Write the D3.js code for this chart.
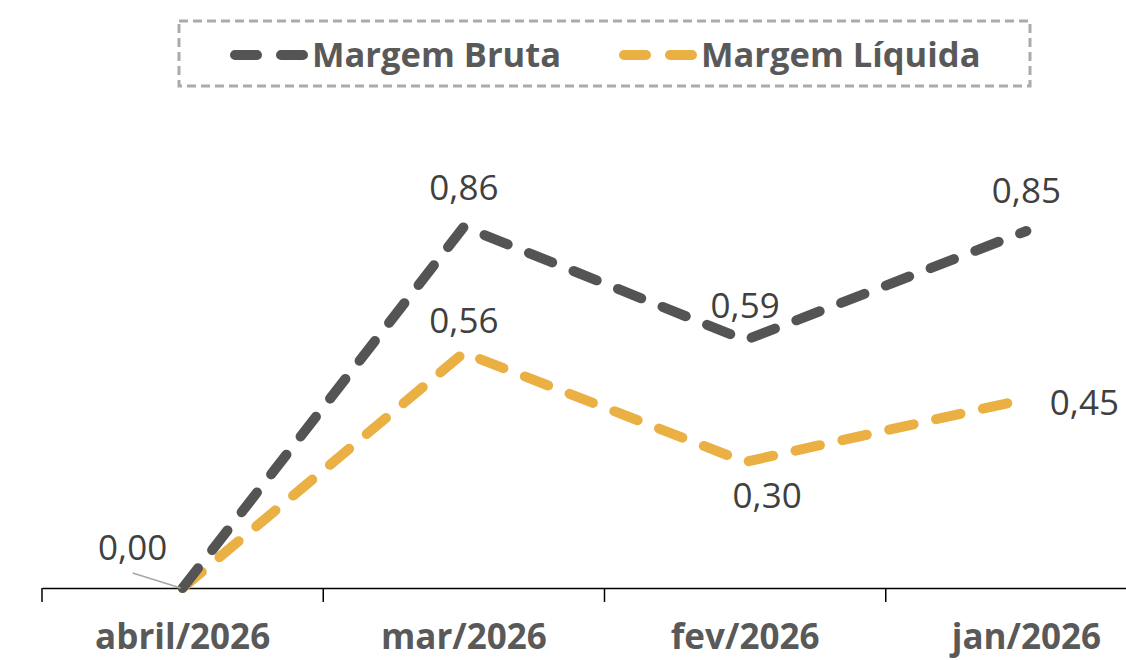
<!DOCTYPE html>
<html>
<head>
<meta charset="utf-8">
<script src="https://cdn.jsdelivr.net/npm/d3@7"></script>
<style>
  body { margin: 0; background: #fff; }
  text { font-family: "Open Sans", "Noto Sans", sans-serif; }
</style>
</head>
<body>
<div class="chart"></div>
<script>
const categories = ["abril/2026", "mar/2026", "fev/2026", "jan/2026"];
const margemBruta = [0.00, 0.86, 0.59, 0.85];
const margemLiquida = [0.00, 0.56, 0.30, 0.45];
const seriesNames = ["Margem Bruta", "Margem Líquida"];
const seriesColors = ["#545454", "#EBB044"];

const width = 1126, height = 660;
const svg = d3.select(".chart").append("svg")
    .attr("width", width)
    .attr("height", height);

const xScale = d3.scaleBand()
    .domain(categories)
    .range([42, 1167]);
const yScale = d3.scaleLinear()
    .domain([0, 1])
    .range([588, 168]);
const cx = d => xScale(d) + xScale.bandwidth() / 2;

// axis
const xAxis = d3.axisBottom(xScale).tickSize(0).tickFormat("");
svg.append("g")
    .attr("class", "x-axis")
    .attr("transform", "translate(0,588)")
    .call(xAxis)
    .call(g => g.select(".domain").attr("stroke", "#000").attr("stroke-width", 1.5));
// tick marks between categories
svg.append("g").selectAll("line")
    .data(categories)
    .enter()
    .append("line")
    .attr("x1", d => xScale(d))
    .attr("x2", d => xScale(d))
    .attr("y1", 588)
    .attr("y2", 602)
    .attr("stroke", "#000")
    .attr("stroke-width", 1.5);
svg.append("g").selectAll("text")
    .data(categories)
    .enter()
    .append("text")
    .attr("x", d => cx(d))
    .attr("y", 649)
    .attr("text-anchor", "middle")
    .attr("font-size", 35)
    .attr("font-weight", "bold")
    .attr("fill", "#595959")
    .text(d => d);

// lines
const series = [margemBruta, margemLiquida];
const line = d3.line()
    .x((d, i) => cx(categories[i]))
    .y(d => yScale(d));
series.slice().reverse().forEach((vals, k) => {
    const idx = series.length - 1 - k;
    svg.append("path")
        .datum(vals)
        .attr("d", line)
        .attr("fill", "none")
        .attr("stroke", seriesColors[idx])
        .attr("stroke-width", 10)
        .attr("stroke-linecap", "round")
        .attr("stroke-linejoin", "round")
        .attr("stroke-dasharray", "25,23");
});

// data labels
const fmt = v => d3.format(".2f")(v).replace(".", ",");
const labelOffsets = [
    [[-50, -28], [0, -27], [0, -22], [0, -28]],
    [[-50, -28], [0, -20], [22, 46], [58, 16]]
];
series.forEach((vals, s) => {
    svg.append("g").selectAll("text")
        .data(vals)
        .enter()
        .append("text")
        .attr("x", (d, i) => cx(categories[i]) + labelOffsets[s][i][0])
        .attr("y", (d, i) => yScale(d) + labelOffsets[s][i][1])
        .attr("text-anchor", "middle")
        .attr("font-size", 35)
        .attr("fill", "#404040")
        .text((d, i) => (s === 1 && i === 0) ? "" : fmt(d));
});
// leader line for 0,00
svg.append("line")
    .attr("x1", cx(categories[0]) - 50)
    .attr("y1", yScale(0) - 15)
    .attr("x2", cx(categories[0]) - 2)
    .attr("y2", yScale(0))
    .attr("stroke", "#A6A6A6")
    .attr("stroke-width", 1.5);

// legend
const legend = svg.append("g");
legend.append("rect")
    .attr("x", 179)
    .attr("y", 21)
    .attr("width", 851)
    .attr("height", 65)
    .attr("fill", "none")
    .attr("stroke", "#ABABAB")
    .attr("stroke-width", 3)
    .attr("stroke-dasharray", "9,5");
const legendX = [235, 624];
seriesNames.forEach((name, i) => {
    legend.append("line")
        .attr("x1", legendX[i])
        .attr("x2", legendX[i] + 70)
        .attr("y1", 55)
        .attr("y2", 55)
        .attr("stroke", seriesColors[i])
        .attr("stroke-width", 10)
        .attr("stroke-linecap", "round")
        .attr("stroke-dasharray", "22,24");
    legend.append("text")
        .attr("x", legendX[i] + 77)
        .attr("y", 67)
        .attr("font-size", 34.5)
        .attr("font-weight", "bold")
        .attr("fill", "#595959")
        .text(name);
});
</script>
</body>
</html>
